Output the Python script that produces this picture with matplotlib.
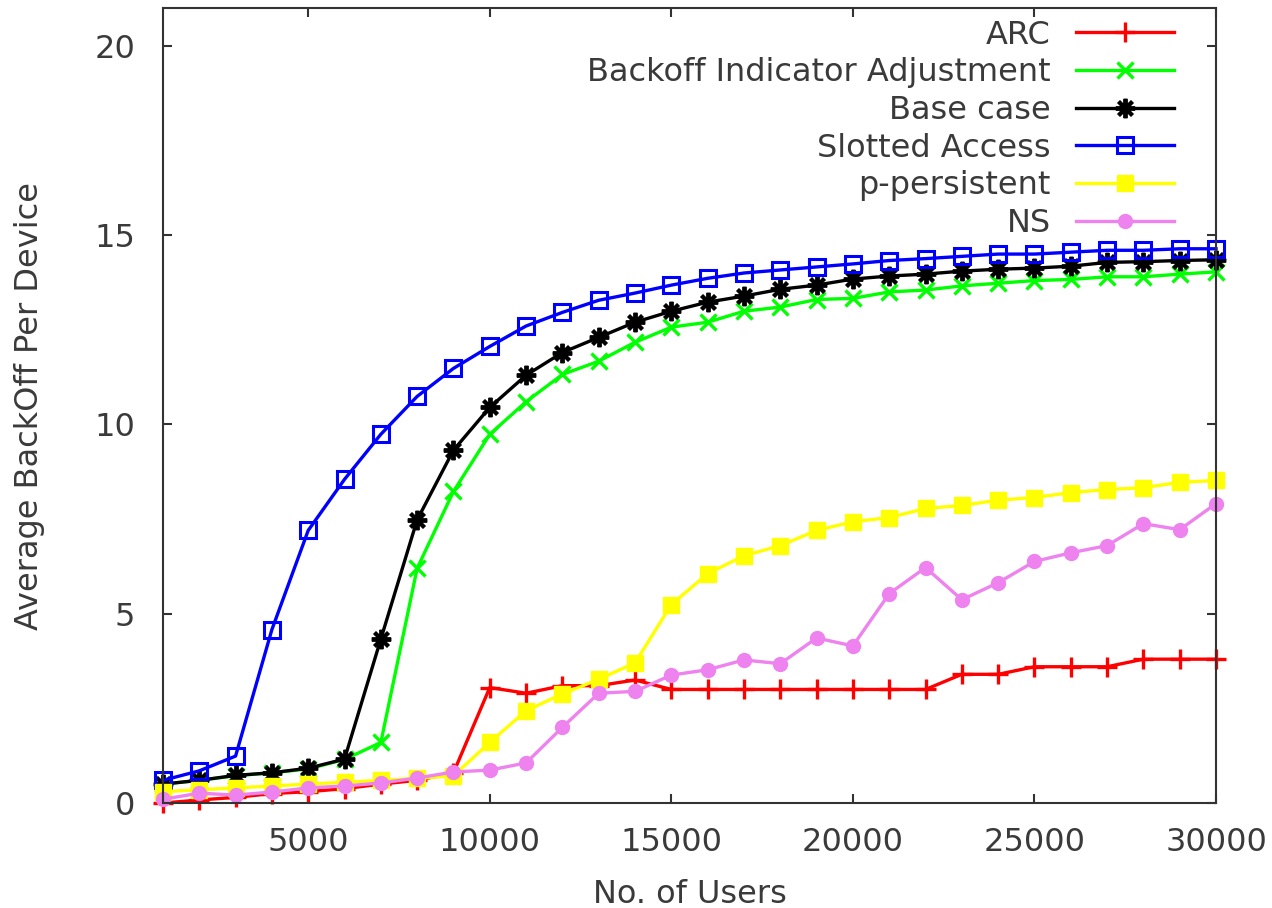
import matplotlib
matplotlib.use("Agg")
import matplotlib.pyplot as plt

# number of users on the x axis
users = list(range(1000, 30001, 1000))

# average backoff per device, one list per scheme
arc = [0.0, 0.08, 0.15, 0.25, 0.3, 0.38, 0.5, 0.6, 0.8, 3.05,
       2.9, 3.1, 3.1, 3.25, 3.0, 3.0, 3.0, 3.0, 3.0, 3.0,
       3.0, 3.0, 3.4, 3.4, 3.6, 3.6, 3.6, 3.8, 3.8, 3.8]
backoff_ind = [0.5, 0.6, 0.72, 0.8, 0.9, 1.15, 1.6, 6.2, 8.23, 9.74,
               10.6, 11.32, 11.67, 12.17, 12.57, 12.7, 12.99, 13.1, 13.3, 13.33,
               13.5, 13.55, 13.66, 13.73, 13.8, 13.83, 13.9, 13.9, 13.97, 14.03]
base_case = [0.5, 0.6, 0.73, 0.8, 0.92, 1.16, 4.33, 7.48, 9.32, 10.45,
             11.3, 11.9, 12.3, 12.7, 12.99, 13.23, 13.39, 13.57, 13.68, 13.84,
             13.92, 13.97, 14.05, 14.1, 14.13, 14.18, 14.28, 14.3, 14.33, 14.35]
slotted = [0.6, 0.85, 1.24, 4.58, 7.2, 8.55, 9.74, 10.74, 11.48, 12.06,
           12.6, 12.96, 13.28, 13.47, 13.68, 13.86, 14.0, 14.08, 14.16, 14.24,
           14.33, 14.38, 14.44, 14.5, 14.5, 14.55, 14.6, 14.6, 14.64, 14.64]
p_persistent = [0.3, 0.35, 0.4, 0.45, 0.5, 0.55, 0.6, 0.65, 0.72, 1.6,
                2.44, 2.88, 3.27, 3.7, 5.24, 6.06, 6.53, 6.8, 7.2, 7.43,
                7.54, 7.78, 7.86, 8.0, 8.07, 8.2, 8.28, 8.33, 8.47, 8.52]
ns = [0.1, 0.26, 0.21, 0.29, 0.4, 0.45, 0.53, 0.66, 0.82, 0.87,
      1.06, 2.0, 2.9, 2.95, 3.38, 3.52, 3.78, 3.68, 4.36, 4.15,
      5.53, 6.22, 5.37, 5.82, 6.38, 6.61, 6.8, 7.38, 7.22, 7.91]

x_ticks = [5000, 10000, 15000, 20000, 25000, 30000]
y_ticks = [0, 5, 10, 15, 20]

TEXT = "#3a3a3a"
plt.rcParams["font.family"] = ["DejaVu Sans"]
plt.rcParams["font.size"] = 23

fig = plt.figure(figsize=(12.72, 9.08), dpi=100)
ax = fig.add_axes([0.1281, 0.1156, 0.8279, 0.8756])

lw = 2.4
ax.plot(users, arc, color="#ff0000", lw=lw, marker="+", ms=15, mew=2.4,
        label="ARC", clip_on=False)
ax.plot(users, backoff_ind, color="#00ff00", lw=lw, marker="x", ms=12, mew=2.4,
        label="Backoff Indicator Adjustment", clip_on=False)
ax.plot(users, base_case, color="#000000", lw=lw, marker=(8, 2, 0), ms=14, mew=2.8,
        label="Base case", clip_on=False)
ax.plot(users, slotted, color="#0000ff", lw=lw, marker="s", ms=11, mew=2.2,
        mfc="none", label="Slotted Access", clip_on=False)
ax.plot(users, p_persistent, color="#ffff00", lw=lw, marker="s", ms=12,
        label="p-persistent", clip_on=False)
ax.plot(users, ns, color="#ee82ee", lw=lw, marker="o", ms=10,
        label="NS", clip_on=False)

ax.set_xlim(1000, 30000)
ax.set_ylim(0, 21)
ax.set_xticks(x_ticks)
ax.set_yticks(y_ticks)

for s in ax.spines.values():
    s.set_linewidth(1.5)
    s.set_color("#333333")
ax.tick_params(axis="both", direction="in", length=6.5, width=1.5,
               top=True, right=True, colors="#333333", labelcolor=TEXT)
ax.tick_params(axis="x", pad=17)
ax.tick_params(axis="y", pad=20)

ax.set_xlabel("No. of Users", color=TEXT)
ax.set_ylabel("Average BackOff Per Device", color=TEXT)
ax.xaxis.set_label_coords(0.5, -0.095)
ax.yaxis.set_label_coords(-0.112, 0.5)

ax.legend(loc="upper right", bbox_to_anchor=(0.960, 0.9855), frameon=False,
          markerfirst=False, handlelength=3.05, handletextpad=0.8,
          labelspacing=0.21, borderpad=0, borderaxespad=0, labelcolor=TEXT)

fig.savefig("out.png", dpi=100)
plt.close(fig)
